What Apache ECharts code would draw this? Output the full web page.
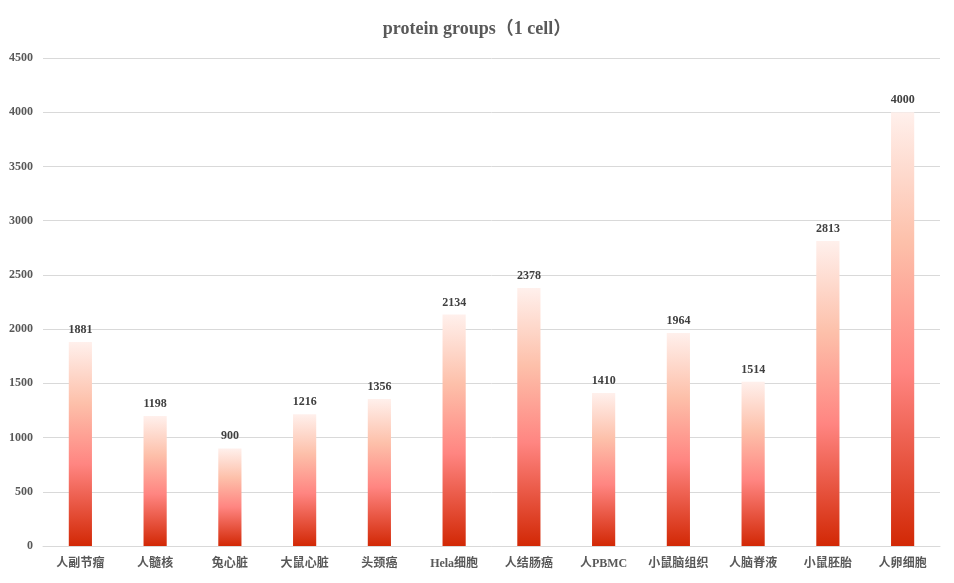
<!DOCTYPE html>
<html><head><meta charset="utf-8">
<script src="https://cdn.jsdelivr.net/npm/echarts@6/dist/echarts.min.js"></script>
<style>html,body{margin:0;padding:0;background:#fff}#c{width:954px;height:583px}</style>
</head><body><div id="c"></div>
<script>
const categories = ['人副节瘤','人髓核','兔心脏','大鼠心脏','头颈癌','Hela细胞','人结肠癌','人PBMC','小鼠脑组织','人脑脊液','小鼠胚胎','人卵细胞'];
const values = [1881,1198,900,1216,1356,2134,2378,1410,1964,1514,2813,4000];
const yTicks = {min:0,max:4500,interval:500};
const FONT = '"Liberation Serif","Noto Sans CJK SC",serif';
const chart = echarts.init(document.getElementById('c'));
chart.setOption({
  animation:false,
  title:{text:'protein groups（1 cell）',left:'center',top:15,textStyle:{fontFamily:FONT,fontSize:18,fontWeight:'bold',color:'#595959'}},
  grid:{left:43,right:14,top:58,bottom:37},
  xAxis:{type:'category',data:categories,axisTick:{show:false},axisLine:{lineStyle:{color:'#d9d9d9'}},
    axisLabel:{fontFamily:FONT,fontSize:12,fontWeight:'bold',color:'#595959',margin:12,interval:0}},
  yAxis:{type:'value',min:yTicks.min,max:yTicks.max,interval:yTicks.interval,
    axisLine:{show:false},axisTick:{show:false},splitLine:{lineStyle:{color:'#d9d9d9'}},
    axisLabel:{fontFamily:FONT,fontSize:12,fontWeight:'bold',color:'#595959',margin:10,formatter:v=>String(v)}},
  series:[{type:'bar',data:values,barWidth:'31%',
    itemStyle:{color:new echarts.graphic.LinearGradient(0,0,0,1,[
      {offset:0,color:'#fff0ec'},{offset:0.3,color:'#fdc0aa'},{offset:0.6,color:'#ff8581'},{offset:1,color:'#d22805'}])},
    label:{show:true,position:'top',distance:6,fontFamily:FONT,fontSize:12,fontWeight:'bold',color:'#404040'}}]
});
</script></body></html>
